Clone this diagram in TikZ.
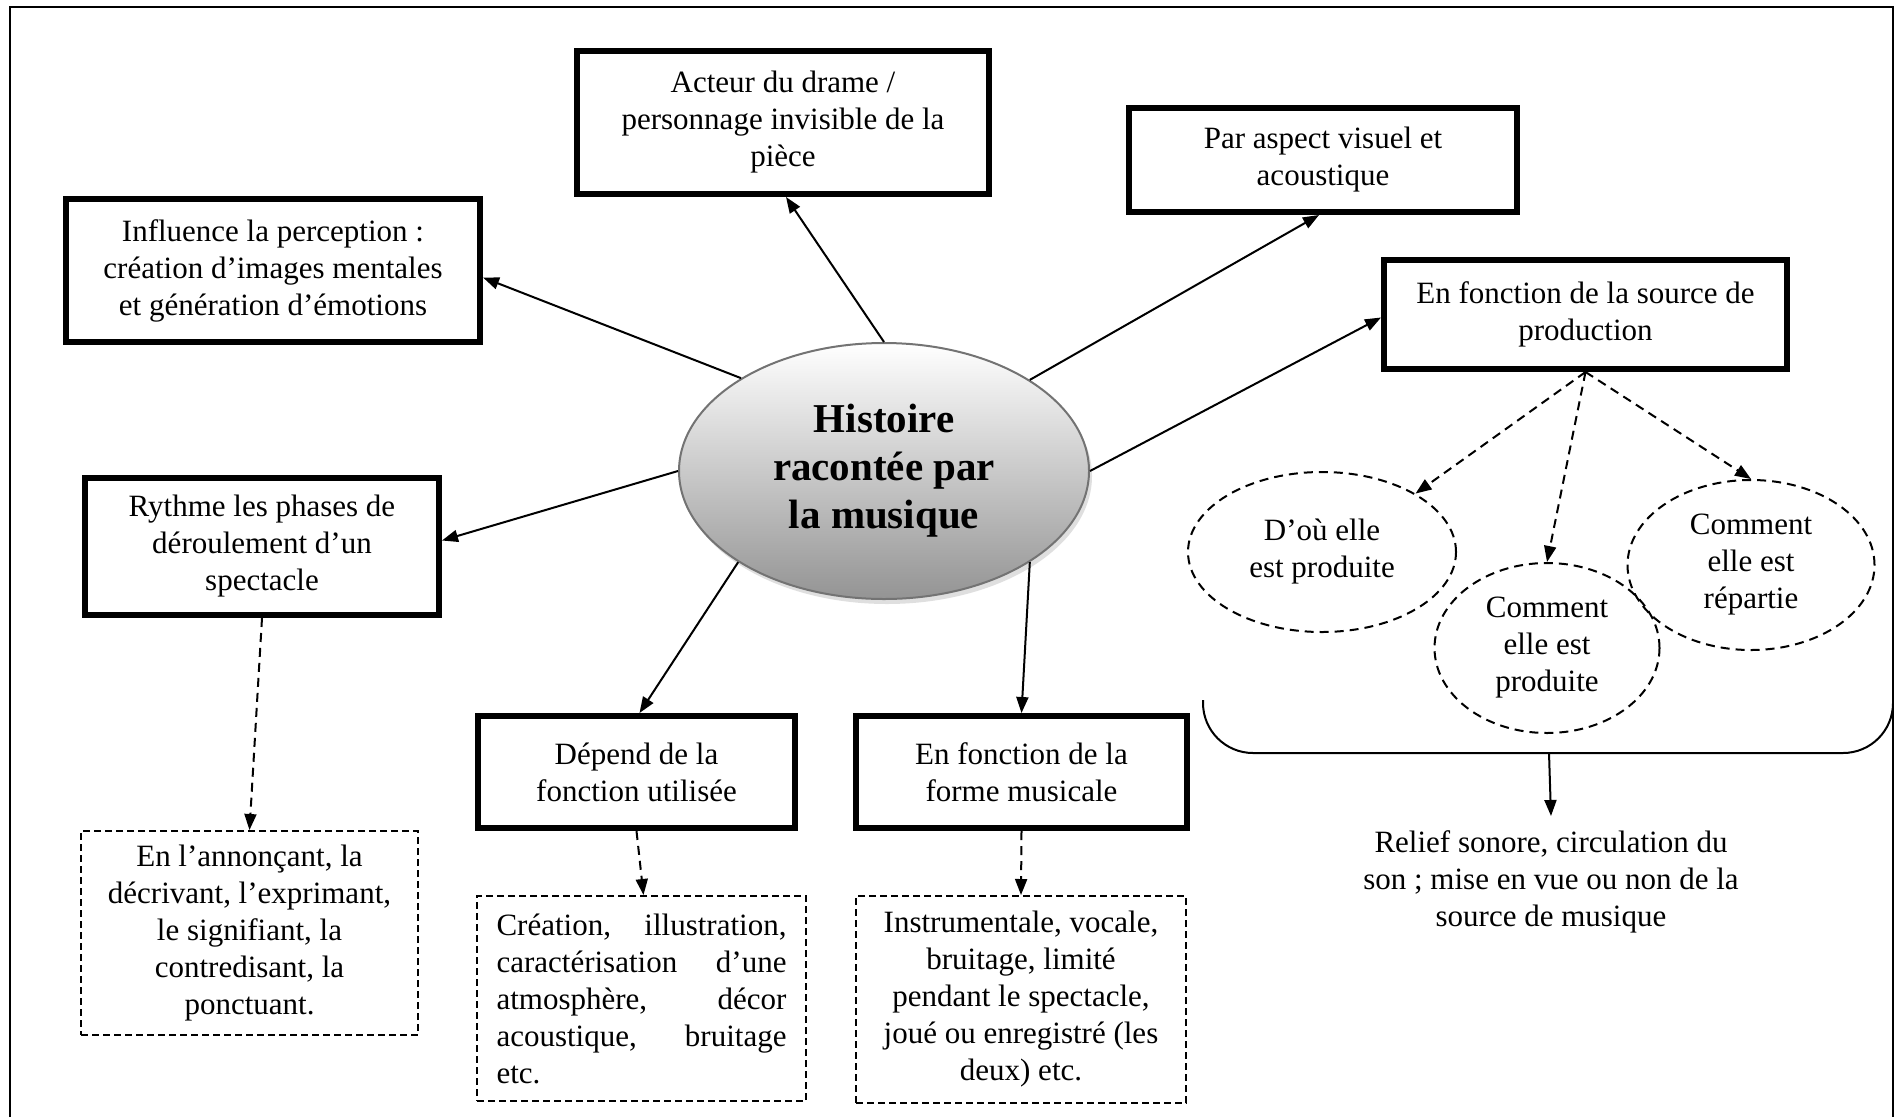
\documentclass[tikz,border=0pt]{standalone}
\usepackage{fontspec}
\setmainfont{Liberation Serif}
\usetikzlibrary{arrows.meta,shapes.geometric,shadows}
\begin{document}
\begin{tikzpicture}[x=1pt,y=-1pt,
 txt/.style={font=\fontsize{31}{37}\selectfont, align=center, inner sep=0pt},
 solidbox/.style={txt, draw, line width=6pt, rectangle},
 dashbox/.style={txt, draw, rectangle, line width=2pt, dash pattern=on 7pt off 4pt},
 dashell/.style={txt, draw, ellipse, line width=2pt, dash pattern=on 9pt off 6pt},
 arr/.style={-{Triangle[length=16pt,width=12pt]}, line width=2pt},
 darr/.style={arr, dash pattern=on 9pt off 6pt}]

\useasboundingbox (0,0) rectangle (1894,1117);
\draw[line width=2pt] (10,1117) -- (10,7) -- (1893,7) -- (1893,1117);

\node[ellipse, minimum width=410pt, minimum height=256pt, inner sep=0pt,
  draw=black!55, line width=2pt, top color=white, bottom color=black!42,
  drop shadow={shadow xshift=3pt, shadow yshift=-5pt, fill=black!25},
  font=\bfseries\fontsize{41}{48}\selectfont, align=center]
  (main) at (884,471) {Histoire\\racontée par\\la musique};

\node[solidbox, minimum width=414pt, minimum height=143pt] (b1) at (273,270.5)
  {Influence la perception :\\création d’images mentales\\et génération d’émotions};
\node[solidbox, minimum width=412pt, minimum height=143pt] (b2) at (783,122.5)
  {Acteur du drame /\\personnage invisible de la\\pièce};
\node[solidbox, minimum width=388pt, minimum height=104pt] (b3) at (1323,160)
  {Par aspect visuel et\\acoustique};
\node[solidbox, minimum width=403pt, minimum height=109pt] (b4) at (1585.5,314.5)
  {En fonction de la source de\\production};
\node[solidbox, minimum width=354pt, minimum height=137pt] (b5) at (262,546.5)
  {Rythme les phases de\\déroulement d’un\\spectacle};
\node[solidbox, minimum width=317pt, minimum height=112pt] (b6) at (636.5,772)
  {Dépend de la\\fonction utilisée};
\node[solidbox, minimum width=331pt, minimum height=112pt] (b7) at (1021.5,772)
  {En fonction de la\\forme musicale};

\node[dashbox, minimum width=337pt, minimum height=204pt] (d1) at (249.5,933)
  {En l’annonçant, la\\décrivant, l’exprimant,\\le signifiant, la\\contredisant, la\\ponctuant.};
\node[dashbox, minimum width=329pt, minimum height=205pt, text width=290pt, align=left] (d2) at (641.5,998.5)
  {Création,\hfill illustration,\\caractérisation\hfill d’une\\atmosphère,\hfill décor\\acoustique,\hfill bruitage\\etc.};
\node[dashbox, minimum width=330pt, minimum height=207pt] (d3) at (1021,999.5)
  {Instrumentale, vocale,\\bruitage, limité\\pendant le spectacle,\\joué ou enregistré (les\\deux) etc.};

\node[dashell, minimum width=268pt, minimum height=160pt] (e1) at (1322,552)
  {D’où elle\\est produite};
\node[dashell, minimum width=225pt, minimum height=170pt] (e2) at (1547,648)
  {Comment\\elle est\\produite};
\node[dashell, minimum width=247pt, minimum height=170pt] (e3) at (1751,565)
  {Comment\\elle est\\répartie};

\draw[line width=2pt, rounded corners=50pt] (1203,700) -- (1203,753) -- (1893,753) -- (1893,690);
\coordinate (brk) at (1549,753);
\node[txt, inner sep=14pt, anchor=north] (relief) at (1551,816)
  {Relief sonore, circulation du\\son ; mise en vue ou non de la\\source de musique};

\draw[arr] (main.147.5) -- ([yshift=-7pt]b1.east);
\draw[arr] (main.north) -- ([xshift=3pt]b2.south);
\draw[arr] (main.32.5) -- ([xshift=-4pt]b3.south);
\draw[arr] (main.east) -- ([yshift=-3pt]b4.west);
\draw[arr] (main.west) -- ([yshift=6pt]b5.east);
\draw[arr] (main.212.5) -- ([xshift=3pt]b6.north);
\draw[arr] (main.328.5) -- (b7.north);

\draw[darr] (b5.south) -- (d1.north);
\draw[darr] (b6.south) -- ([xshift=2pt]d2.north);
\draw[darr] (b7.south) -- (d3.north);
\draw[darr] (b4.south) -- (e1.32);
\draw[darr] (b4.south) -- (e2.north);
\draw[darr] (b4.south) -- (e3.north);
\draw[arr] (brk) -- (relief.north);
\end{tikzpicture}
\end{document}
